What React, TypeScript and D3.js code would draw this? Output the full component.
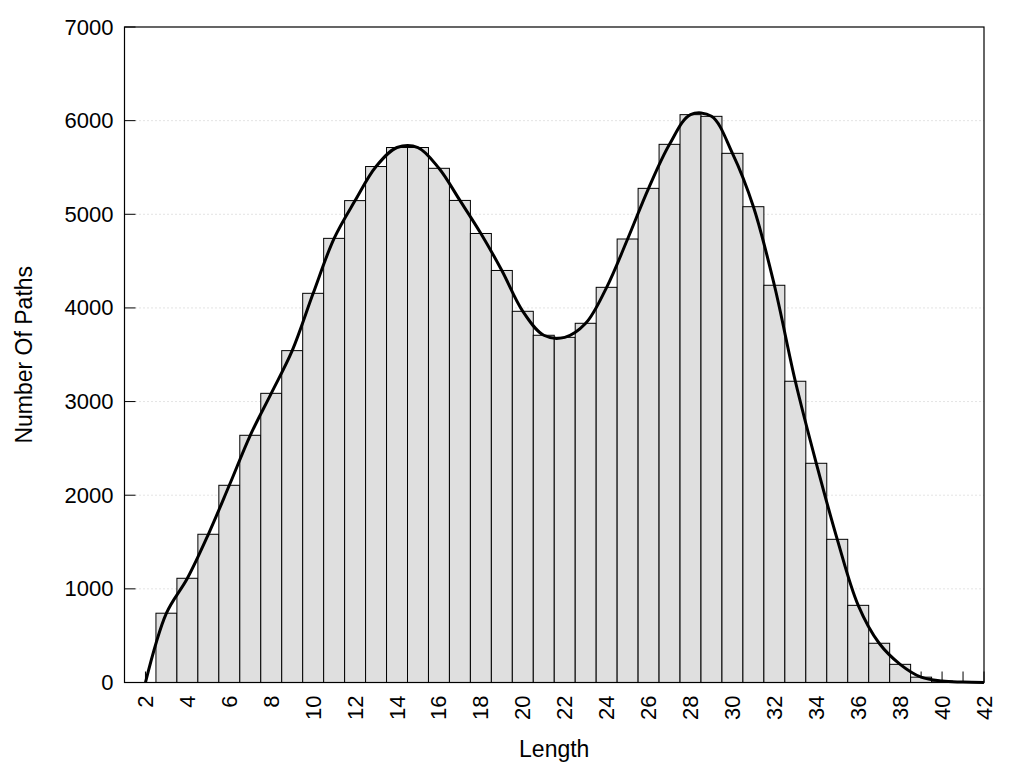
import React from "react";
import * as d3 from "d3";

const lengths = [2, 3, 4, 5, 6, 7, 8, 9, 10, 11, 12, 13, 14, 15, 16, 17, 18, 19, 20, 21, 22, 23, 24, 25, 26, 27, 28, 29, 30, 31, 32, 33, 34, 35, 36, 37, 38, 39, 40, 41, 42];
const counts = [0, 740, 1113, 1583, 2106, 2640, 3088, 3544, 4156, 4743, 5146, 5510, 5713, 5713, 5491, 5148, 4795, 4400, 3964, 3708, 3686, 3836, 4220, 4736, 5277, 5747, 6064, 6046, 5651, 5081, 4242, 3217, 2341, 1529, 824, 419, 194, 57, 15, 5, 0];
const xTicks = d3.range(2, 43, 2);
const xMinorTicks = d3.range(2, 43, 1);
const yTicks = [0, 1000, 2000, 3000, 4000, 5000, 6000, 7000];

const W = 1024, H = 768;
const L = 124.5, R = 984, T = 27, B = 682.5;

export default function App() {
  const x = d3.scaleLinear().domain([1, 42]).range([L, R]);
  const y = d3.scaleLinear().domain([0, 7000]).range([B, T]);
  const data = lengths.map((l, i) => ({ l, v: counts[i] }));
  const line = d3
    .line<{ l: number; v: number }>()
    .x((d) => x(d.l))
    .y((d) => y(d.v))
    .curve(d3.curveCatmullRom.alpha(0.5));
  const font = "Liberation Sans, Arial, sans-serif";
  return (
    <svg width={W} height={H} style={{ position: "absolute", left: 0, top: 0 }} fontFamily={font}>
      <rect x={0} y={0} width={W} height={H} fill="#fff" />
      {yTicks.slice(1, -1).map((t) => (
        <line key={"g" + t} x1={L + 11} x2={R} y1={y(t)} y2={y(t)} stroke="#c8c8c8" strokeWidth={1} strokeDasharray="1,3" />
      ))}
      {yTicks.map((t) => (
        <line key={"yt" + t} x1={L} x2={L + 11} y1={y(t)} y2={y(t)} stroke="#000" strokeWidth={1} />
      ))}
      {xMinorTicks.map((t) => (
        <line key={"xt" + t} x1={x(t)} x2={x(t)} y1={B} y2={B - 11} stroke="#000" strokeWidth={1} />
      ))}
      {data.filter((d) => d.v > 0).map((d) => (
        <rect
          key={"b" + d.l}
          x={x(d.l - 0.5)}
          y={y(d.v)}
          width={x(d.l + 0.5) - x(d.l - 0.5)}
          height={B - y(d.v)}
          fill="#dfdfdf"
          stroke="#000"
          strokeWidth={1}
        />
      ))}
      <path d={line(data) || ""} fill="none" stroke="#000" strokeWidth={3} strokeLinejoin="round" />
      <rect x={L} y={T} width={R - L} height={B - T} fill="none" stroke="#000" strokeWidth={1.2} />
      {yTicks.map((t) => (
        <text key={"yl" + t} x={L - 11} y={y(t)} textAnchor="end" dominantBaseline="central" fontSize={22}>
          {t}
        </text>
      ))}
      {xTicks.map((t) => (
        <text
          key={"xl" + t}
          transform={`translate(${x(t)},${B + 13}) rotate(-90)`}
          textAnchor="end"
          dominantBaseline="central"
          fontSize={22}
        >
          {t}
        </text>
      ))}
      <text x={(L + R) / 2} y={757} textAnchor="middle" fontSize={23}>
        Length
      </text>
      <text transform={`translate(32,${(T + B) / 2}) rotate(-90)`} textAnchor="middle" fontSize={23}>
        Number Of Paths
      </text>
    </svg>
  );
}
